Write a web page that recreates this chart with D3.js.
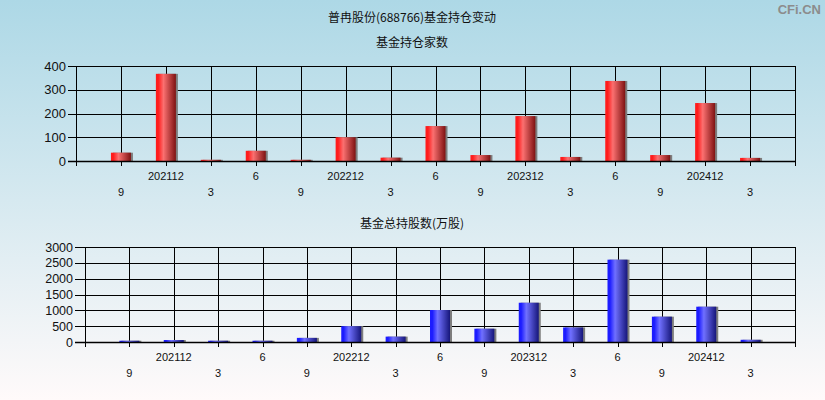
<!DOCTYPE html>
<html>
<head>
<meta charset="utf-8">
<script src="https://cdn.jsdelivr.net/npm/d3@7"></script>
<style>
html,body{margin:0;padding:0;}
svg{display:block;}
</style>
</head>
<body>
<svg id="chart" width="825" height="400"></svg>
<script>
// ---- data ----
const periods = ["202109","202112","202203","202206","202209","202212","202303","202306","202309","202312","202403","202406","202409","202412","202503"];
const tickLabels = ["9","202112","3","6","9","202212","3","6","9","202312","3","6","9","202412","3"];
const fundCount = [35, 367, 5, 43, 5, 100, 14, 147, 25, 189, 17, 337, 25, 244, 13];
const fundShares = [40, 63, 40, 40, 130, 500, 170, 1010, 420, 1240, 460, 2600, 800, 1115, 70];
const countTicks = [0, 100, 200, 300, 400];
const sharesTicks = [0, 500, 1000, 1500, 2000, 2500, 3000];
const mainTitle = "普冉股份(688766)基金持仓变动";
const title1 = "基金持仓家数";
const title2 = "基金总持股数(万股)";

const svg = d3.select("#chart");
const W = 825, H = 400;
const FONT = "'Liberation Sans', Arial, 'Noto Sans CJK SC', sans-serif";
const CJK = "'Noto Sans CJK SC', 'Liberation Sans', sans-serif";

const defs = svg.append("defs");
const bg = defs.append("linearGradient").attr("id","bg").attr("x1",0).attr("y1",0).attr("x2",0).attr("y2",1);
bg.append("stop").attr("offset","0%").attr("stop-color","#add8e6");
bg.append("stop").attr("offset","100%").attr("stop-color","#fffafa");

function barGrad(id, c0, c1, c2) {
  const g = defs.append("linearGradient").attr("id", id).attr("x1",0).attr("y1",0).attr("x2",1).attr("y2",0);
  g.append("stop").attr("offset","0%").attr("stop-color", c0);
  g.append("stop").attr("offset","12%").attr("stop-color", c0);
  g.append("stop").attr("offset","38%").attr("stop-color", c1);
  g.append("stop").attr("offset","100%").attr("stop-color", c2);
}
barGrad("redBar", "#ff1c1c", "#fb7070", "#7e1212");
barGrad("blueBar", "#1c1cff", "#7070ff", "#16167a");

svg.append("rect").attr("width", W).attr("height", H).attr("fill", "url(#bg)");

// titles
svg.append("text").attr("x", 412).attr("y", 22).attr("text-anchor","middle")
  .style("font-family", CJK).style("font-size","12px").attr("fill","#111").text(mainTitle);
svg.append("text").attr("x", 412).attr("y", 47).attr("text-anchor","middle")
  .style("font-family", CJK).style("font-size","12px").attr("fill","#111").text(title1);
svg.append("text").attr("x", 412).attr("y", 228).attr("text-anchor","middle")
  .style("font-family", CJK).style("font-size","12px").attr("fill","#111").text(title2);

// watermark
svg.append("text").attr("x", 821).attr("y", 14).attr("text-anchor","end")
  .style("font-family", FONT).style("font-size","13px").style("font-weight","bold")
  .attr("fill","#8c8c8c").text("CFi.CN");

function drawPanel(cfg) {
  const {left, right, top, bottom, values, ticks, grad, ytickLen, yFont, row1, row2} = cfg;
  const x = d3.scalePoint().domain(periods).range([left, right]).padding(1);
  const y = d3.scaleLinear().domain([ticks[0], ticks[ticks.length-1]]).range([bottom, top]);
  const g = svg.append("g");

  // horizontal grid
  g.selectAll("line.h").data(ticks).enter().append("line")
    .attr("x1", left - ytickLen).attr("x2", right)
    .attr("y1", d => Math.round(y(d)) + 0.5).attr("y2", d => Math.round(y(d)) + 0.5)
    .attr("stroke", "#000").attr("stroke-width", 1);
  // vertical grid (including plot edges), extending below as ticks
  const xs = [left].concat(periods.map(p => x(p))).concat([right]);
  g.selectAll("line.v").data(xs).enter().append("line")
    .attr("x1", d => Math.round(d) + 0.5).attr("x2", d => Math.round(d) + 0.5)
    .attr("y1", top).attr("y2", bottom + 5)
    .attr("stroke", "#000").attr("stroke-width", 1);

  // bars
  const bw = 20;
  const bars = g.selectAll("g.bar").data(periods).enter().append("g");
  bars.append("rect")
    .attr("x", (d) => x(d) - bw/2 + 2)
    .attr("y", (d,i) => y(values[i]))
    .attr("width", bw)
    .attr("height", (d,i) => bottom - y(values[i]))
    .attr("fill", "#7d7d7d");
  bars.append("rect")
    .attr("x", (d) => x(d) - bw/2)
    .attr("y", (d,i) => y(values[i]))
    .attr("width", bw)
    .attr("height", (d,i) => bottom - y(values[i]))
    .attr("fill", `url(#${grad})`);

  // baseline
  g.append("line").attr("x1", left - ytickLen).attr("x2", right + 0.5)
    .attr("y1", Math.round(bottom) + 0.5).attr("y2", Math.round(bottom) + 0.5)
    .attr("stroke", "#000").attr("stroke-width", 1.6);

  // y labels
  g.selectAll("text.yl").data(ticks).enter().append("text")
    .attr("x", left - ytickLen - 2).attr("y", d => y(d)).attr("dy", "0.36em")
    .attr("text-anchor", "end")
    .style("font-family", FONT).style("font-size", yFont + "px").attr("fill", "#111")
    .text(d => d);

  // x labels (two staggered rows)
  g.selectAll("text.xl").data(periods).enter().append("text")
    .attr("x", d => x(d))
    .attr("y", (d,i) => i % 2 === 1 ? row1 : row2)
    .attr("text-anchor", "middle")
    .style("font-family", FONT).style("font-size", "11px").attr("fill", "#111")
    .text((d,i) => tickLabels[i]);
}

drawPanel({left: 76, right: 795, top: 66, bottom: 161, values: fundCount, ticks: countTicks,
  grad: "redBar", ytickLen: 8, yFont: 13, row1: 180, row2: 196});
drawPanel({left: 85, right: 795, top: 247, bottom: 342, values: fundShares, ticks: sharesTicks,
  grad: "blueBar", ytickLen: 10, yFont: 12.5, row1: 361, row2: 377});
</script>
</body>
</html>
